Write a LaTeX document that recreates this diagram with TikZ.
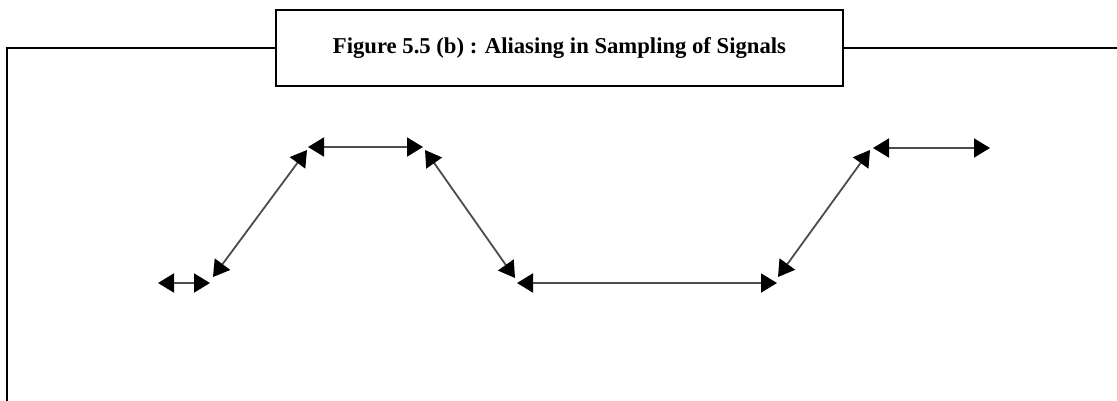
\documentclass[tikz,border=0pt]{standalone}
\usepackage{fontspec}
\setmainfont{Liberation Serif}
\usetikzlibrary{arrows.meta}
\begin{document}
\begin{tikzpicture}[x=1pt,y=-1pt,
  frameline/.style={line width=2.2pt,black},
  titlebox/.style={draw,line width=2.2pt,minimum width=567pt,minimum height=76pt,inner sep=0pt},
  sig/.style={line width=1.8pt,draw=black!70,{Triangle[length=16pt,width=19pt,color=black]}-{Triangle[length=16pt,width=19pt,color=black]}}]
\useasboundingbox (0,0) rectangle (1117,400);
\fill[white] (0,0) rectangle (1117,400);
% frame
\node[titlebox] (title) at (559.5,48) {\resizebox{453pt}{!}{\bfseries Figure 5.5 (b) : Aliasing in Sampling of Signals}};
\coordinate (tl) at (7,48);
\coordinate (bl) at (7,401);
\coordinate (tr) at (1118,48);
\draw[frameline] (title.west) -- (tl) -- (bl);
\draw[frameline] (title.east) -- (tr);
% signal tips
\coordinate (a1) at (158,283); \coordinate (a2) at (210,283);
\coordinate (b1) at (213,277); \coordinate (b2) at (307,150);
\coordinate (c1) at (308,147); \coordinate (c2) at (423,147);
\coordinate (d1) at (425,150); \coordinate (d2) at (515,278);
\coordinate (e1) at (517,283); \coordinate (e2) at (777,283);
\coordinate (f1) at (778,277); \coordinate (f2) at (870,150);
\coordinate (g1) at (873,148); \coordinate (g2) at (990,148);
\draw[sig] (a1) -- (a2);
\draw[sig] (b1) -- (b2);
\draw[sig] (c1) -- (c2);
\draw[sig] (d1) -- (d2);
\draw[sig] (e1) -- (e2);
\draw[sig] (f1) -- (f2);
\draw[sig] (g1) -- (g2);
\end{tikzpicture}
\end{document}
